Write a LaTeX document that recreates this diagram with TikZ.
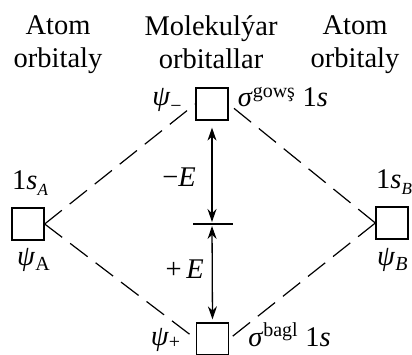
\documentclass[tikz,border=0pt]{standalone}
\usepackage{fontspec}
\setmainfont{Liberation Serif}
\usetikzlibrary{positioning,arrows.meta}
\newcommand{\lowsub}[1]{\raisebox{-0.45ex}{\fontsize{17}{17}\selectfont #1}}

\begin{document}
\begin{tikzpicture}[
        x=1pt, y=1pt,
        font=\fontsize{28.5}{33}\selectfont,
        % styles
        orb/.style={rectangle, draw=black, line width=1.3pt, minimum size=32pt, inner sep=0pt},
        head/.style={align=center, inner sep=0pt, anchor=north},
        lbl/.style={inner sep=0pt},
        link/.style={line width=1.2pt, dash pattern=on 22pt off 10pt},
        energy/.style={{Stealth[length=13pt,width=9pt]}-{Stealth[length=13pt,width=9pt]}, line width=1.3pt},
        tick/.style={line width=1.2pt}
    ]
    \useasboundingbox (0,0) rectangle (412,-355);

    % column headings
    \node[head] (hleft) at (58,-15.5) {Atom\\orbitaly};
    \node[head] (hmid) at (211,-15.5) {Molekulýar\\orbitallar};
    \node[head] (hright) at (355,-15.5) {Atom\\orbitaly};

    % orbital boxes
    \node[orb] (top) at (212,-104) {};
    \node[orb] (left) at (28,-224) {};
    \node[orb] (right) at (392,-223) {};
    \node[orb] (bottom) at (212.5,-339) {};
    \coordinate (mid) at (212,-224);

    % labels
    \node[lbl, anchor=base east] (psiminus) at ([xshift=-13pt, yshift=-2pt]top.west) {\textit{ψ}\textsubscript{\raisebox{-0.35ex}{\textminus}}};
    \node[lbl, anchor=base west] (sigstar) at ([xshift=9pt, yshift=-3pt]top.east) {\textit{σ}\textsuperscript{gowş} 1\textit{s}};
    \node[lbl, anchor=base west] (sA) at ([xshift=-16pt, yshift=18pt]left.north) {1\textit{s}\lowsub{\textit{A}}};
    \node[lbl, anchor=base west] (psiA) at ([xshift=-11pt, yshift=-25pt]left.south) {\textit{ψ}\textsubscript{A}};
    \node[lbl, anchor=base west] (sB) at ([xshift=-16pt, yshift=18pt]right.north) {1\textit{s}\lowsub{\textit{B}}};
    \node[lbl, anchor=base west] (psiB) at ([xshift=-15pt, yshift=-26pt]right.south) {\textit{ψ}\textsubscript{\textit{B}}};
    \node[lbl, anchor=base east] (psiplus) at ([xshift=-15pt, yshift=-6pt]bottom.west) {\textit{ψ}\textsubscript{+}};
    \node[lbl, anchor=base west] (sigma) at ([xshift=19pt, yshift=-7pt]bottom.east) {\textit{σ}\textsuperscript{bagl} 1\textit{s}};

    % dashed correlation lines
    \draw[link] (left.east) -- (top.west);
    \draw[link] (right.west) -- (top.east);
    \draw[link] (left.east) -- (bottom.west);
    \draw[link] (right.west) -- (bottom.east);

    % energy arrows
    \draw[tick] ([xshift=-19pt]mid) -- ([xshift=21pt]mid);
    \draw[energy, shorten <=7pt, shorten >=2pt] (top.south) -- (mid);
    \draw[energy, shorten <=2pt, shorten >=3pt] (mid) -- (bottom.north);
    \node[lbl, anchor=base east] (minusE) at (196,-187) {\textminus\textit{E}};
    \node[lbl, anchor=base east] (plusE) at (204,-278) {+\,\textit{E}};

\end{tikzpicture}
\end{document}
